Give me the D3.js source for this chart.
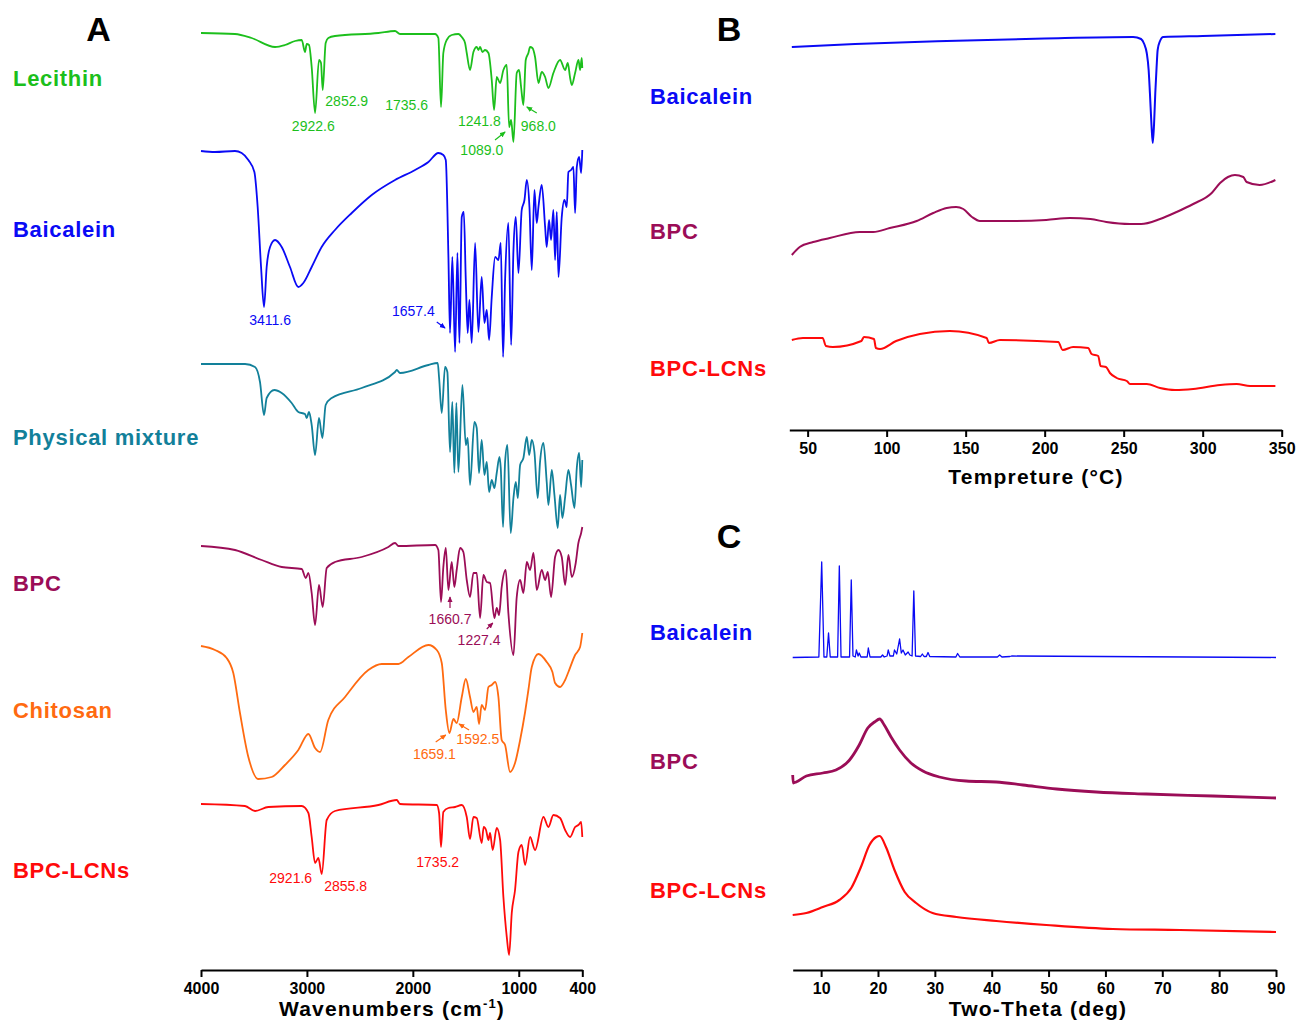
<!DOCTYPE html>
<html>
<head>
<meta charset="utf-8">
<script src="https://cdn.jsdelivr.net/npm/d3@7/dist/d3.min.js"></script>
<style>
  body { margin: 0; background: #fff; }
  svg text { font-family: "Liberation Sans", Arial, sans-serif; }
</style>
</head>
<body>
<svg id="fig" width="1297" height="1027"></svg>
<script>
// FTIR (A), DSC (B), XRD (C), stacked in arbitrary units

const COLORS = {
  lecithin: "#1cbf1c", baicalein: "#0a0af5", mixture: "#12809a",
  bpc: "#9b0d57", chitosan: "#ff6a10", lcn: "#ff0a0a"
};

// ---- A: FTIR, [wavenumber, stacked transmittance a.u.]
const lecithinIR = [[4000,937],[3679,936],[3522,932],[3301,923],[3207,925],[3112,929],[3049,930],[3018,918],[3002,926],[2980,925],[2955,903],[2923,857],[2886,910],[2867,907],[2851,880],[2823,927],[2798,932],[2735,934],[2325,937],[2168,939],[2121,936],[1790,936],[1759,932],[1734,863],[1712,917],[1680,930],[1633,935],[1570,936],[1538,933],[1507,927],[1491,917],[1460,900],[1428,918],[1397,923],[1381,920],[1365,923],[1343,918],[1318,920],[1286,917],[1255,890],[1233,860],[1208,893],[1176,887],[1145,900],[1113,905],[1091,843],[1072,850],[1050,828],[1019,897],[997,900],[978,883],[956,865],[934,910],[909,917],[893,923],[871,922],[846,913],[814,887],[783,898],[751,893],[720,882],[673,897],[610,910],[562,900],[537,907],[515,892],[499,885],[468,897],[436,910],[421,900],[405,912],[400,902]];
const baicaleinIR = [[4000,819],[3868,818],[3679,819],[3616,817],[3553,810],[3496,798],[3465,763],[3433,703],[3405,663],[3380,703],[3348,723],[3301,730],[3238,723],[3160,703],[3081,683],[3034,687],[2955,703],[2861,723],[2735,740],[2577,757],[2388,775],[2168,790],[1979,800],[1853,808],[1759,817],[1712,815],[1689,810],[1664,713],[1649,637],[1627,713],[1601,618],[1579,717],[1560,627],[1538,753],[1519,758],[1500,690],[1482,637],[1466,670],[1444,627],[1412,727],[1381,638],[1350,693],[1324,647],[1302,660],[1280,630],[1255,673],[1223,713],[1192,710],[1170,727],[1148,613],[1129,690],[1098,747],[1072,625],[1050,720],[1028,753],[1003,697],[972,760],[946,770],[924,790],[899,763],[877,700],[852,780],[830,747],[814,763],[783,785],[751,743],[736,723],[714,750],[695,730],[673,760],[657,710],[641,758],[625,693],[594,753],[569,770],[547,763],[531,798],[506,800],[484,803],[468,757],[452,803],[430,813],[411,797],[400,820]];
const mixtureIR = [[4000,606],[3584,606],[3490,603],[3443,588],[3405,555],[3380,572],[3307,580],[3238,577],[3144,567],[3081,558],[3018,556],[3002,552],[2980,558],[2955,545],[2923,515],[2886,552],[2854,532],[2823,565],[2766,572],[2483,582],[2168,598],[2152,600],[2121,597],[1853,605],[1765,607],[1752,592],[1727,557],[1696,603],[1674,598],[1649,518],[1627,568],[1608,497],[1589,567],[1570,498],[1532,585],[1500,525],[1482,532],[1460,485],[1419,548],[1397,542],[1375,497],[1350,530],[1324,495],[1302,508],[1280,478],[1255,490],[1230,482],[1208,497],[1182,513],[1170,502],[1148,443],[1129,508],[1107,525],[1076,437],[1050,472],[1028,488],[1009,472],[987,505],[956,512],[924,533],[902,515],[877,530],[852,518],[821,472],[799,508],[767,527],[736,488],[720,465],[688,500],[663,475],[632,442],[610,475],[588,452],[562,473],[531,500],[506,485],[474,462],[452,502],[430,517],[411,483],[400,510]];
const bpcIR = [[4000,424],[3679,420],[3427,410],[3238,403],[3049,401],[3011,392],[2986,397],[2955,377],[2923,345],[2886,385],[2851,363],[2813,402],[2735,408],[2483,413],[2231,423],[2168,427],[2136,424],[1790,425],[1759,420],[1734,368],[1712,403],[1689,422],[1664,380],[1633,408],[1608,383],[1586,400],[1554,422],[1523,418],[1491,390],[1460,373],[1428,397],[1397,397],[1365,352],[1334,395],[1302,388],[1271,387],[1230,352],[1208,362],[1186,355],[1161,383],[1123,400],[1098,357],[1050,315],[1019,373],[987,390],[956,377],[924,408],[893,400],[861,417],[830,380],[783,400],[751,390],[726,398],[695,373],[657,413],[625,420],[594,413],[562,385],[531,415],[499,393],[462,407],[437,427],[411,437],[400,443]];
const chitosanIR = [[4000,324],[3868,320],[3758,312],[3695,297],[3632,257],[3553,213],[3459,191],[3333,193],[3207,205],[3081,220],[2986,236],[2923,222],[2876,218],[2798,250],[2640,273],[2420,300],[2294,306],[2136,306],[2042,313],[1853,325],[1774,320],[1727,307],[1689,260],[1655,237],[1617,251],[1586,247],[1538,273],[1500,291],[1460,273],[1428,258],[1397,263],[1375,246],[1350,265],[1318,260],[1286,283],[1255,285],[1223,288],[1192,273],[1161,230],[1129,225],[1082,198],[1035,207],[987,230],[940,258],[909,280],[877,303],[814,316],[736,308],[682,298],[657,287],[610,283],[562,290],[531,298],[468,315],[421,323],[400,337]];
const lcnIR = [[4000,166],[3585,164],[3490,159],[3364,163],[3049,164],[2986,157],[2955,133],[2923,107],[2892,112],[2860,96],[2813,150],[2735,159],[2325,165],[2152,170],[2121,166],[1774,165],[1752,157],[1734,123],[1712,158],[1664,162],[1601,163],[1538,165],[1491,153],[1460,131],[1428,153],[1397,152],[1350,127],[1331,143],[1309,140],[1286,130],[1271,137],[1246,120],[1208,142],[1176,130],[1145,73],[1113,33],[1091,15],[1066,57],[1035,80],[1003,118],[972,125],[940,105],[893,133],[846,120],[767,153],[720,143],[673,155],[610,152],[562,140],[515,133],[468,143],[437,145],[411,148],[400,133]];

// peak labels [wavenumber, a.u., text, series] and arrows [w0, v0, w1, v1, series]
const irPeakLabels = [
  [2940,839,"2922.6","lecithin"],[2624,864,"2852.9","lecithin"],[2058,860,"1735.6","lecithin"],
  [1372,844,"1241.8","lecithin"],[1349,815,"1089.0","lecithin"],[815,839,"968.0","lecithin"],
  [3348,645,"3411.6","baicalein"],[1995,654,"1657.4","baicalein"],
  [1649,346,"1660.7","bpc"],[1375,325,"1227.4","bpc"],
  [1797,211,"1659.1","chitosan"],[1387,226,"1592.5","chitosan"],
  [3153,87,"2921.6","lcn"],[2634,79,"2855.8","lcn"],[1765,103,"1735.2","lcn"]
];
const irArrows = [
  [1224,830,1129,838,"lecithin"],[830,857,924,863,"lecithin"],
  [1774,648,1696,642,"baicalein"],
  [1649,362,1649,373,"bpc"],[1302,341,1245,347,"bpc"],
  [1784,228,1689,235,"chitosan"],[1469,240,1564,246,"chitosan"]
];
const irTicks = [4000, 3000, 2000, 1000, 400];

// ---- B: DSC, [temperature °C, stacked heat flow a.u.]
const baicaleinDSC = [[40,383],[80,386],[138,389],[200,391.5],[256,393],[261,391],[263,386],[264.6,377],[265.8,360],[266.6,337],[267.6,305],[268.4,287],[269.2,305],[270,337],[270.8,362],[271.5,380],[273,389],[275,393],[300,394],[346,396]];
const bpcDSC = [[40,175],[45,183],[53.5,188],[64,192],[83,198],[91.5,198],[102,202],[119,209],[129.5,217],[138,222],[144,223],[148.5,221],[154,213],[159,209],[180,209],[201,210],[216,212],[229,211],[239,208],[254,206],[261,206],[273,211],[283.5,218],[294,226],[305.7,237],[311,247],[316,253],[320.4,255],[325.7,253],[327.8,248],[336,245],[346,250]];
const lcnDSC = [[40,90],[47,92],[59.5,92],[61.6,84],[66,83],[84,89],[85.6,93],[92,91],[93.2,82],[95.8,81],[106,89],[121,96],[140,99],[163.3,92],[164.7,87],[171.7,90],[208.6,88],[211.4,80],[218,83],[227.6,82],[229.7,76],[233.9,74],[235.4,64],[238.8,63],[241.3,57],[245.6,52],[252,49],[254,46],[264.6,46],[273,42],[282.5,40],[294,41],[311,45],[321.5,46],[330,44],[346,44]];
const dscTicks = [50, 100, 150, 200, 250, 300, 350];

// ---- C: XRD, [2θ deg, stacked intensity a.u.]
const baicaleinXRD = [[5,312.5],[9.6,313],[10.1,408],[10.5,313],[11.0,313],[11.3,337],[11.6,313],[12.9,313],[13.2,404],[13.5,313],[15.0,313],[15.3,390],[15.6,314],[16.0,313],[16.2,320],[16.5,314],[16.7,317],[17.0,313],[18.1,313],[18.3,322],[18.6,313],[20.5,313],[20.8,315],[21.1,313],[21.6,314],[21.8,320],[22.1,314],[22.7,314],[22.9,320],[23.3,316],[23.8,331],[24.1,317],[24.4,320],[24.8,315],[25.3,318],[25.6,315],[26.0,314],[26.3,379],[26.6,314],[27.5,313.5],[27.8,316],[28.1,313.5],[28.5,313.5],[28.8,317.5],[29.1,313.5],[33.7,313],[34.0,316.5],[34.4,313],[41.0,313],[41.4,315],[41.8,313],[43.2,313.5],[43.5,314],[90,312.5]];
const bpcXRD = [[5,195],[5.1,187],[5.6,188],[7.4,194],[10.3,197],[12.6,200],[15,210],[16.7,225],[18.2,242],[19.4,248],[20.3,251],[21.1,245],[22.3,233],[23.8,220],[25.8,207],[27.9,199],[30.8,193],[35.5,189],[40.8,188],[45.5,185],[51.4,181],[58.4,178],[67.2,176],[78.9,174],[90,172]];
const lcnXRD = [[5,55],[7.4,57],[10.3,63],[13.2,70],[15.3,82],[17,103],[18.5,125],[19.7,133],[20.3,134],[21.4,123],[22.9,100],[24.7,78],[26.7,67],[29.6,57],[33.8,53],[40.8,49],[49.6,45],[61.3,41],[73.1,40],[90,38]];
const xrdTicks = [10, 20, 30, 40, 50, 60, 70, 80, 90];

// ---- scales
const xA = d3.scaleLinear().domain([4000, 400]).range([201, 582.3]);
const yA = d3.scaleLinear().domain([0, 950]).range([970, 20]);
const xB = d3.scaleLinear().domain([38.4, 350]).range([789.3, 1281.7]);
const yB = d3.scaleLinear().domain([0, 410]).range([430, 20]);
const xC = d3.scaleLinear().domain([5, 90]).range([792.7, 1276]);
const yC = d3.scaleLinear().domain([0, 450]).range([970, 520]);

const fmtTick = d3.format("d");
const svg = d3.select("#fig");

// arrow markers, one per colour
const defs = svg.append("defs");
Object.entries(COLORS).forEach(([k, c]) => {
  defs.append("marker").attr("id", "arr-" + k)
    .attr("viewBox", "0 0 8 8").attr("refX", 7).attr("refY", 4)
    .attr("markerWidth", 6).attr("markerHeight", 6)
    .attr("markerUnits", "userSpaceOnUse").attr("orient", "auto")
    .append("path").attr("d", "M0,0.5 L8,4 L0,7.5 Z").attr("fill", c);
});

function drawLine(x, y, data, color, width, curve) {
  const line = d3.line().x(d => x(d[0])).y(d => y(d[1])).curve(curve || d3.curveLinear);
  svg.append("path").datum(data)
    .attr("d", line).attr("fill", "none")
    .attr("stroke", color).attr("stroke-width", width)
    .attr("stroke-linejoin", "round");
}

function drawAxis(x, ty, ticks, title, titleX, titleY) {
  const g = svg.append("g").attr("transform", `translate(0,${ty})`)
    .call(d3.axisBottom(x).tickValues(ticks).tickFormat(fmtTick)
      .tickSize(7).tickSizeOuter(0).tickPadding(6));
  g.select(".domain").attr("stroke", "#000").attr("stroke-width", 2);
  g.selectAll(".tick line").attr("stroke", "#000").attr("stroke-width", 2);
  g.selectAll(".tick text").attr("fill", "#000")
    .style("font-size", "16px").style("font-weight", "bold")
    .style("font-family", '"Liberation Sans", Arial, sans-serif');
  const t = svg.append("text").attr("x", titleX).attr("y", titleY)
    .attr("text-anchor", "middle").attr("font-size", 21).attr("font-weight", "bold")
    .attr("letter-spacing", 1.2).attr("fill", "#000");
  return t.text(title);
}

function seriesLabel(txt, x, y, color) {
  svg.append("text").attr("x", x).attr("y", y).text(txt)
    .attr("fill", color).attr("font-size", 22).attr("font-weight", "bold")
    .attr("letter-spacing", 0.7);
}

function panelLetter(txt, x, y) {
  svg.append("text").attr("x", x).attr("y", y).text(txt)
    .attr("text-anchor", "middle").attr("font-size", 34).attr("font-weight", "bold");
}

// ---- Panel A
[[lecithinIR, "lecithin"], [baicaleinIR, "baicalein"], [mixtureIR, "mixture"],
 [bpcIR, "bpc"], [chitosanIR, "chitosan"], [lcnIR, "lcn"]]
  .forEach(([d, k]) => drawLine(xA, yA, d, COLORS[k], 1.8, d3.curveMonotoneX));

svg.append("g").selectAll("text").data(irPeakLabels).join("text")
  .attr("x", d => xA(d[0])).attr("y", d => yA(d[1]))
  .attr("text-anchor", "middle").attr("font-size", 14)
  .attr("fill", d => COLORS[d[3]]).text(d => d[2]);

svg.append("g").selectAll("line").data(irArrows).join("line")
  .attr("x1", d => xA(d[0])).attr("y1", d => yA(d[1]))
  .attr("x2", d => xA(d[2])).attr("y2", d => yA(d[3]))
  .attr("stroke", d => COLORS[d[4]]).attr("stroke-width", 1.2)
  .attr("marker-end", d => `url(#arr-${d[4]})`);

const tA = drawAxis(xA, 970, irTicks, "", 392, 1016);
tA.text(null);
tA.append("tspan").text("Wavenumbers (cm");
tA.append("tspan").attr("font-size", 13).attr("dy", -8).text("-1");
tA.append("tspan").attr("dy", 8).text(")");

seriesLabel("Lecithin", 13, 86, COLORS.lecithin);
seriesLabel("Baicalein", 13, 237, COLORS.baicalein);
seriesLabel("Physical mixture", 13, 445, COLORS.mixture);
seriesLabel("BPC", 13, 591, COLORS.bpc);
seriesLabel("Chitosan", 13, 718, COLORS.chitosan);
seriesLabel("BPC-LCNs", 13, 878, COLORS.lcn);
panelLetter("A", 98.5, 41);

// ---- Panel B
drawLine(xB, yB, baicaleinDSC, COLORS.baicalein, 2, d3.curveMonotoneX);
drawLine(xB, yB, bpcDSC, COLORS.bpc, 2, d3.curveMonotoneX);
drawLine(xB, yB, lcnDSC, COLORS.lcn, 2, d3.curveMonotoneX);
drawAxis(xB, 430, dscTicks, "Tempreture (°C)", 1036, 484);
seriesLabel("Baicalein", 650, 104, COLORS.baicalein);
seriesLabel("BPC", 650, 239, COLORS.bpc);
seriesLabel("BPC-LCNs", 650, 376, COLORS.lcn);
panelLetter("B", 729, 41);

// ---- Panel C
drawLine(xC, yC, baicaleinXRD, COLORS.baicalein, 1.3);
drawLine(xC, yC, bpcXRD, COLORS.bpc, 2.8, d3.curveMonotoneX);
drawLine(xC, yC, lcnXRD, COLORS.lcn, 2.2, d3.curveMonotoneX);
drawAxis(xC, 970, xrdTicks, "Two-Theta (deg)", 1038, 1016);
seriesLabel("Baicalein", 650, 640, COLORS.baicalein);
seriesLabel("BPC", 650, 769, COLORS.bpc);
seriesLabel("BPC-LCNs", 650, 898, COLORS.lcn);
panelLetter("C", 729, 548);
</script>
</body>
</html>
